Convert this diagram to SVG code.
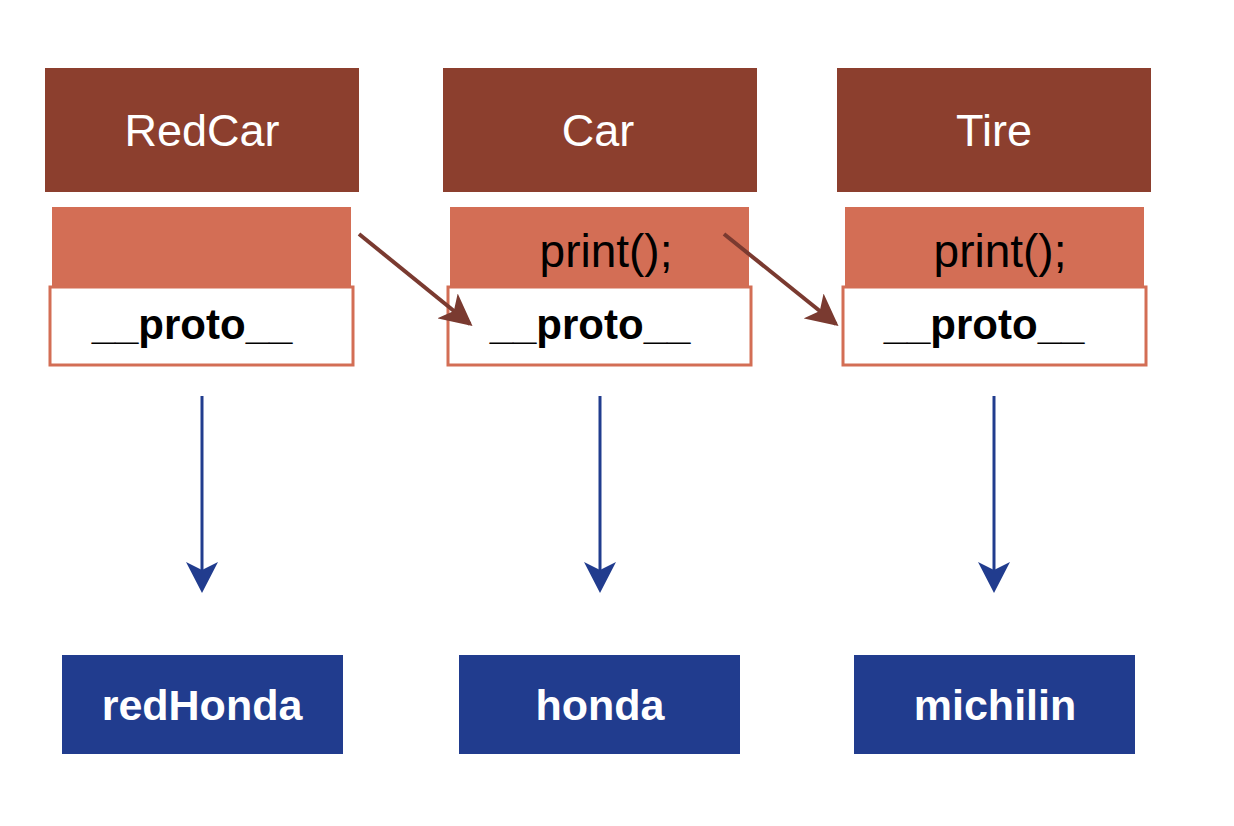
<svg xmlns="http://www.w3.org/2000/svg" width="1234" height="826" viewBox="0 0 1234 826">
<style>
.head{fill:#8c3f2e}
.body{fill:#d36e55}
.proto{fill:#fff;stroke:#d36e55;stroke-width:3}
.inst{fill:#213c8e}
text{font-family:"Liberation Sans",Arial,sans-serif;text-anchor:middle}
.ht{fill:#fff;font-size:45px}
.bt{fill:#000;font-size:46px}
.pt{fill:#000;font-size:42px;font-weight:bold}
.it{fill:#fff;font-size:43px;font-weight:bold}
.pl{stroke:#7a3a30;stroke-width:4;fill:none}
.il{stroke:#213c8e;stroke-width:3;fill:none}
</style>
<defs>
<marker id="ah" viewBox="0 0 20 20" refX="18" refY="10" markerWidth="8" markerHeight="8" markerUnits="strokeWidth" orient="auto">
<path d="M0,0 L20,10 L0,20 L5,10 Z" fill="#7a3a30"/>
</marker>
</defs>
<rect width="1234" height="826" fill="#fff"/>
<g id="redcar">
<rect class="head" x="45" y="68" width="314" height="124"/>
<text class="ht" x="202" y="146">RedCar</text>
<rect class="body" x="52" y="207" width="299" height="80"/>
<rect class="proto" x="50" y="287" width="303" height="78"/>
<text class="pt" x="192" y="339">__proto__</text>
</g>
<g id="car">
<rect class="head" x="443" y="68" width="314" height="124"/>
<text class="ht" x="598" y="146">Car</text>
<rect class="body" x="450" y="207" width="299" height="80"/>
<text class="bt" x="606" y="267">print();</text>
<rect class="proto" x="448" y="287" width="303" height="78"/>
<text class="pt" x="590" y="339">__proto__</text>
</g>
<g id="tire">
<rect class="head" x="837" y="68" width="314" height="124"/>
<text class="ht" x="994" y="146">Tire</text>
<rect class="body" x="845" y="207" width="299" height="80"/>
<text class="bt" x="1000" y="267">print();</text>
<rect class="proto" x="843" y="287" width="303" height="78"/>
<text class="pt" x="984" y="339">__proto__</text>
</g>
<g id="redHonda">
<rect class="inst" x="62" y="655" width="281" height="99"/>
<text class="it" x="202" y="720">redHonda</text>
</g>
<g id="honda">
<rect class="inst" x="459" y="655" width="281" height="99"/>
<text class="it" x="600" y="720">honda</text>
</g>
<g id="michilin">
<rect class="inst" x="854" y="655" width="281" height="99"/>
<text class="it" x="995" y="720">michilin</text>
</g>
<g id="connectors">
<line class="pl" x1="359" y1="234" x2="470" y2="324" marker-end="url(#ah)"/>
<line class="pl" x1="724" y1="234" x2="836" y2="324" marker-end="url(#ah)"/>
<line class="il" x1="202" y1="396" x2="202" y2="588"/>
<path d="M186,562 L202,570 L218,562 L202,593 Z" fill="#213c8e"/>
<line class="il" x1="600" y1="396" x2="600" y2="588"/>
<path d="M584,562 L600,570 L616,562 L600,593 Z" fill="#213c8e"/>
<line class="il" x1="994" y1="396" x2="994" y2="588"/>
<path d="M978,562 L994,570 L1010,562 L994,593 Z" fill="#213c8e"/>
</g>
</svg>
